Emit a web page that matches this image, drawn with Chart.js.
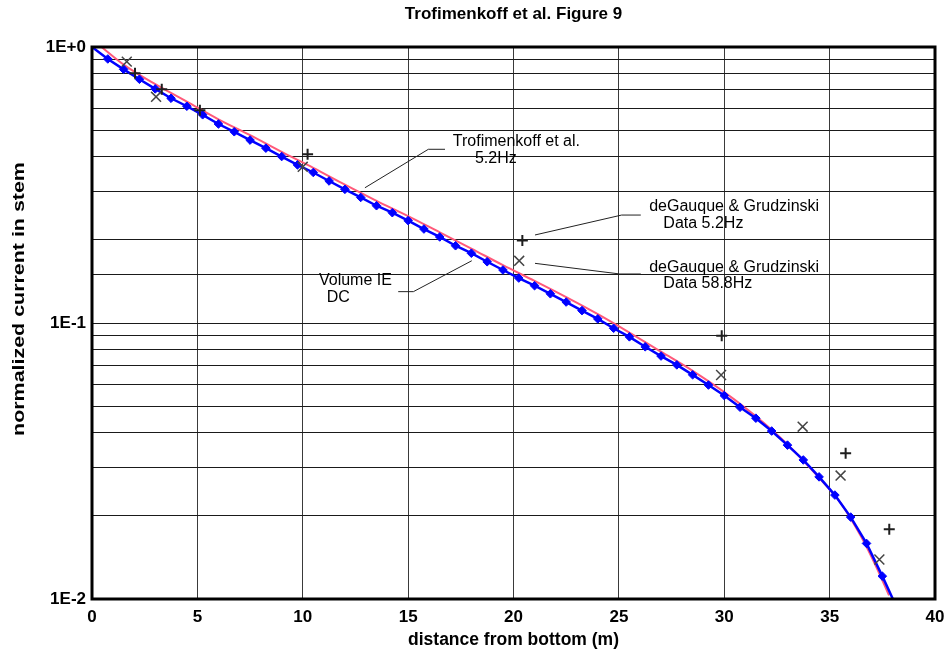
<!DOCTYPE html>
<html>
<head>
<meta charset="utf-8">
<script src="https://cdn.jsdelivr.net/npm/chart.js@4.4.1/dist/chart.umd.min.js"></script>
<style>
  html, body { margin: 0; padding: 0; background: #fff; }
  canvas { display: block; }
</style>
</head>
<body>
<canvas id="chart" width="951" height="655"></canvas>
<script>
// Volume IE DC solution: distance from bottom (m) and normalized stem current
const volumeDistance = [0, 0.75, 1.5, 2.25, 3, 3.75, 4.5, 5.25, 6, 6.75, 7.5, 8.25, 9, 9.75,
  10.5, 11.25, 12, 12.75, 13.5, 14.25, 15, 15.75, 16.5, 17.25, 18, 18.75, 19.5, 20.25, 21,
  21.75, 22.5, 23.25, 24, 24.75, 25.5, 26.25, 27, 27.75, 28.5, 29.25, 30, 30.75, 31.5, 32.25,
  33, 33.75, 34.5, 35.25, 36, 36.75, 37.5, 38];
const volumeCurrent = [1.000, 0.905, 0.830, 0.764, 0.705, 0.652, 0.610, 0.568, 0.526, 0.493,
  0.460, 0.430, 0.401, 0.374, 0.351, 0.327, 0.305, 0.285, 0.266, 0.251, 0.235, 0.219, 0.205,
  0.1905, 0.179, 0.1667, 0.1556, 0.1455, 0.1365, 0.1276, 0.1191, 0.1109, 0.1035, 0.0957,
  0.0891, 0.0820, 0.0759, 0.0705, 0.0649, 0.0596, 0.0546, 0.0495, 0.0452, 0.0406, 0.0361,
  0.0319, 0.0277, 0.0238, 0.0198, 0.0159, 0.0121, 0.0100];

// Trofimenkoff et al. 5.2 Hz curve
const trofDistance = [0.45, 1.5, 3, 4.5, 6, 7.5, 9, 10.5, 12, 13.5, 15, 16.5, 18, 19.5, 21,
  22.5, 24, 25.5, 27, 28.5, 30, 31.5, 33, 34.5, 35.5, 36.5, 37.25, 37.82];
const trofCurrent = [1.0, 0.863, 0.733, 0.634, 0.547, 0.479, 0.417, 0.365, 0.317, 0.277,
  0.244, 0.213, 0.186, 0.162, 0.142, 0.124, 0.1076, 0.0923, 0.0787, 0.0671, 0.0562,
  0.0459, 0.0363, 0.0275, 0.0224, 0.0168, 0.0129, 0.0103];

// deGauque & Grudzinski measurements
const dg52Distance = [2.04, 3.31, 5.12, 10.23, 20.42, 29.88, 35.76, 37.83];
const dg52Current  = [0.803, 0.703, 0.590, 0.409, 0.199, 0.090, 0.0337, 0.0179];
const dg588Distance = [1.65, 3.04, 10.0, 20.27, 29.85, 33.72, 35.52, 37.36];
const dg588Current  = [0.885, 0.660, 0.368, 0.168, 0.0648, 0.0421, 0.028, 0.0139];

// axis labelling
const xTicks = [0, 5, 10, 15, 20, 25, 30, 35, 40];
const yDecades = [1, 0.1, 0.01];
const yDecadeLabels = ['1E+0', '1E-1', '1E-2'];

// callout texts with leader lines (anchored in data units)
const callouts = [
  { lines: ['Trofimenkoff et al.', '5.2Hz'], at: [[17.12, 0.4378], [18.17, 0.380]],
    path: [[12.95, 0.309], [15.96, 0.426], [16.75, 0.426]] },
  { lines: ['deGauque & Grudzinski', 'Data 5.2Hz'], at: [[26.44, 0.2552], [27.11, 0.2203]],
    path: [[21.02, 0.2084], [25.13, 0.2461], [26.04, 0.2461]] },
  { lines: ['deGauque & Grudzinski', 'Data 58.8Hz'], at: [[26.44, 0.1534], [27.11, 0.1336]],
    path: [[21.02, 0.1645], [25.05, 0.1505], [26.04, 0.1505]] },
  { lines: ['Volume IE', 'DC'], at: [[10.77, 0.1373], [11.14, 0.1192]],
    path: [[18.02, 0.1681], [15.25, 0.1299], [14.53, 0.1299]] }
];

const pts = (xs, ys) => xs.map((x, i) => ({ x, y: ys[i] }));
const FONT = '"Liberation Sans", Arial, Helvetica, sans-serif';
Chart.defaults.font.family = FONT;
Chart.defaults.color = '#000';

const overlay = {
  id: 'overlay',
  afterDatasetsDraw(chart) {
    const { ctx, chartArea: a, scales: { x, y } } = chart;
    ctx.save();
    // leader lines
    ctx.strokeStyle = '#222';
    ctx.lineWidth = 1;
    callouts.forEach(c => {
      ctx.beginPath();
      c.path.forEach(([vx, vy], i) => {
        const px = x.getPixelForValue(vx), py = y.getPixelForValue(vy);
        if (i) ctx.lineTo(px, py); else ctx.moveTo(px, py);
      });
      ctx.stroke();
    });
    // callout texts
    ctx.fillStyle = '#000';
    ctx.font = '16px ' + FONT;
    ctx.textAlign = 'left';
    ctx.textBaseline = 'alphabetic';
    callouts.forEach(c => {
      c.lines.forEach((t, i) => {
        ctx.fillText(t, x.getPixelForValue(c.at[i][0]), y.getPixelForValue(c.at[i][1]));
      });
    });
    // plot frame
    ctx.strokeStyle = '#000';
    ctx.lineWidth = 3;
    ctx.strokeRect(a.left, a.top, a.right - a.left, a.bottom - a.top);
    // vertical axis title
    ctx.translate(19, 299);
    ctx.rotate(-Math.PI / 2);
    ctx.scale(1.26, 1);
    ctx.font = 'bold 17px ' + FONT;
    ctx.textAlign = 'center';
    ctx.textBaseline = 'middle';
    ctx.fillText('normalized current in stem', 0, 0);
    ctx.restore();
  }
};

const lastIdx = volumeDistance.length - 1;

new Chart(document.getElementById('chart'), {
  type: 'scatter',
  data: {
    datasets: [
      {
        label: 'deGauque & Grudzinski Data 5.2Hz',
        data: pts(dg52Distance, dg52Current),
        pointStyle: 'cross', pointRadius: 5.5,
        borderColor: '#1e1e1e', pointBorderWidth: 2, backgroundColor: '#1e1e1e'
      },
      {
        label: 'deGauque & Grudzinski Data 58.8Hz',
        data: pts(dg588Distance, dg588Current),
        pointStyle: 'crossRot', pointRadius: 7,
        borderColor: '#444', pointBorderWidth: 1.5, backgroundColor: '#444'
      },
      {
        type: 'line',
        label: 'Volume IE DC',
        data: pts(volumeDistance, volumeCurrent),
        showLine: true,
        borderColor: '#0000ff', backgroundColor: '#0000ff',
        borderWidth: 2.5,
        pointStyle: 'rectRot',
        pointRadius: c => (c.dataIndex === 0 || c.dataIndex === lastIdx) ? 0 : 4.3,
        pointBorderWidth: 1,
        tension: 0
      },
      {
        type: 'line',
        label: 'Trofimenkoff et al. 5.2Hz',
        data: pts(trofDistance, trofCurrent),
        showLine: true,
        borderColor: '#ff5a7a',
        borderWidth: 2,
        pointRadius: 0,
        cubicInterpolationMode: 'monotone'
      }
    ]
  },
  options: {
    responsive: false,
    animation: false,
    devicePixelRatio: 1,
    layout: { padding: { left: 0, right: 16, top: 0, bottom: 0 } },
    plugins: {
      legend: { display: false },
      tooltip: { enabled: false },
      title: {
        display: true,
        fullSize: false,
        text: 'Trofimenkoff et al. Figure 9',
        font: { size: 17, weight: 'bold' },
        color: '#000',
        padding: { top: 4, bottom: 22.6 }
      }
    },
    scales: {
      x: {
        type: 'linear',
        min: 0, max: 40,
        afterBuildTicks: s => { s.ticks = xTicks.map(v => ({ value: v })); },
        ticks: { font: { size: 17, weight: 'bold' }, color: '#000', padding: 8, maxRotation: 0 },
        grid: { color: '#3a3a3a', lineWidth: 1, drawTicks: false },
        border: { display: false },
        title: {
          display: true,
          text: 'distance from bottom (m)',
          font: { size: 17.5, weight: 'bold' },
          color: '#000',
          padding: { top: 0, bottom: 4.5 }
        },
        afterFit: s => { s.height = 56; s.paddingLeft = 0; s.paddingRight = 0; }
      },
      y: {
        type: 'logarithmic',
        min: 0.01, max: 1,
        ticks: {
          autoSkip: false,
          font: { size: 17, weight: 'bold' },
          color: '#000',
          padding: 6,
          callback: v => {
            const i = yDecades.findIndex(d => Math.abs(d - v) < d * 1e-6);
            return i >= 0 ? yDecadeLabels[i] : '';
          }
        },
        grid: { color: '#1a1a1a', lineWidth: 1, drawTicks: false },
        border: { display: false },
        afterFit: s => { s.width = 92; s.paddingTop = 0; s.paddingBottom = 0; }
      }
    }
  },
  plugins: [overlay]
});
</script>
</body>
</html>
